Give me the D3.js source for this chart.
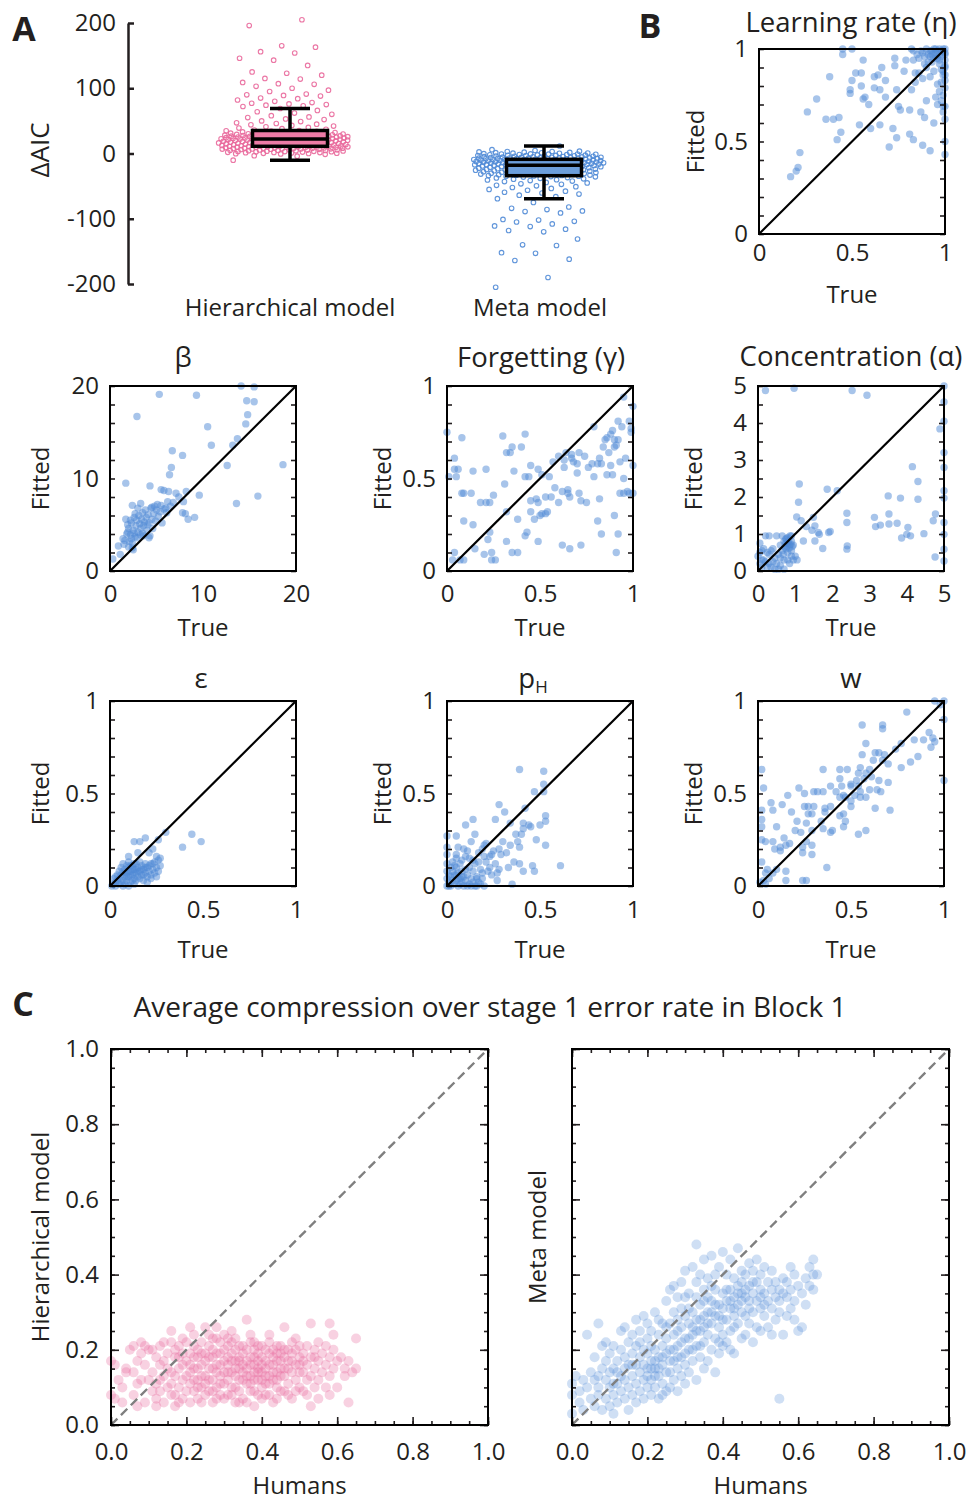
<!DOCTYPE html>
<html>
<head>
<meta charset="utf-8">
<script src="https://cdn.jsdelivr.net/npm/d3@7"></script>
<style>
  body { margin: 0; background: #fff; }
  svg text { font-family: "Open Sans", "DejaVu Sans", sans-serif; fill: #231f20; }
</style>
</head>
<body>
<svg id="fig" width="969" height="1502"></svg>
<script>
// ---------------- Panel A: ΔAIC per participant ----------------
const groupNames = ["Hierarchical model", "Meta model"];
const aicTicks = [200, 100, 0, -100, -200];

const hierAIC = [
  205, 196, 165, 163, 156, 154, 146, 143, 135, 125, 123, 120, 115, 114, 109, 107, 106, 103,
  100, 97, 95, 91, 90, 89, 88, 85, 84, 82, 80, 78, 77, 76, 75, 74, 73, 72,
  69, 66, 64, 62, 60, 58, 56, 55, 53, 52, 50, 49, 47, 46, 45, 44, 43, 42, 41, 40, 39, 38, 37, 36,
  27.4, 23.1, 33.8, 25.6, 30.2, 22.7, 28.9, 24.3, 31.5, 26.1, 22.2, 34.4, 29.7, 23.8, 27.0,
  25.1, 32.6, 24.8, 28.3, 22.9, 30.9, 26.7, 23.5, 33.1, 25.9, 29.2, 24.0, 27.8, 22.5, 31.1,
  26.4, 23.3, 28.6, 24.6, 35.0, 25.3, 30.5, 22.4, 27.2, 29.9, 23.9, 26.9, 32.2, 24.1, 28.1,
  25.5, 22.8, 31.8, 26.2, 23.6, 29.4, 24.9, 27.6, 22.3, 30.0, 25.8, 34.9, 23.0, 28.4, 26.5,
  16.3, 12.4, 20.7, 14.8, 18.2, 11.3, 21.6, 13.5, 19.4, 15.7, 17.1, 11.9, 20.1, 14.2, 21.9,
  12.8, 18.8, 16.0, 13.1, 19.9, 15.2, 21.2, 11.6, 17.6, 14.5, 20.4, 12.1, 18.5, 16.6, 13.8,
  21.4, 11.1, 19.1, 15.0, 17.9, 12.6, 20.9, 14.0, 18.0, 16.9, 13.3, 21.7, 11.4, 19.6, 15.5,
  17.3, 12.9, 20.2, 14.7, 18.6, 16.2, 13.6, 21.1, 11.8, 19.2, 15.9, 17.7, 12.3, 20.6, 14.4,
  8.4, 3.1, 10.2, 5.7, 0.4, 9.1, 6.6, 1.8, 7.9, 4.3, 10.8, 2.5, -1.2, 8.9, 5.0,
  9.7, 0.0, 6.1, 3.8, 7.2, 10.5, -3.4, 4.9, 8.1, 1.2, 9.4, 6.9, 2.9, -0.6, 7.6,
  10.0, 5.4, 0.8, 8.6, 3.5, 9.9, -10.2, 6.4, 2.2, 7.0, 10.6, 4.6, -4.1, 8.2, 1.6,
  9.2, 5.9, 0.2, 7.4, 3.3, 10.3, 6.8, 2.7, 9.6, -0.3, 8.0, 4.1, 10.9, 1.4, 5.2
];

const metaAIC = [
  -75, -82, -84, -86, -88, -89, -91, -101, -102, -104, -105, -108, -111, -112, -116, -118,
  -120, -131, -140, -141, -152, -153, -162, -164, -190, -205,
  -69.3, -66.1, -63.8, -62.2, -60.5, -59.4, -57.7, -56.3, -55.0, -53.6, -52.1, -50.8,
  -49.5, -48.7, -47.2, -46.4, -45.1, -44.3, -43.0, -42.2, -41.5, -40.6, -40.1, -39.3,
  -38.8, -38.0, -37.4, -36.9, -36.2, -35.7, -35.3, -35.0, -34.7, -34.4,
  -26.4, -31.2, -19.5, -28.7, -22.1, -33.6, -24.9, -20.3, -29.8, -18.6, -32.4, -25.3,
  -21.7, -30.5, -23.6, -27.9, -19.1, -33.1, -26.0, -22.8, -29.2, -18.9, -31.8, -24.2,
  -20.8, -27.1, -33.9, -23.0, -28.3, -21.3, -25.7, -30.1, -19.8, -32.9, -26.8, -22.5,
  -29.5, -18.4, -24.6, -31.5, -20.0, -27.5, -23.3, -33.3, -25.0, -21.0, -28.0, -30.8,
  -19.3, -26.2, -32.1, -22.3, -29.0, -24.4, -20.6, -27.3, -31.0, -23.8, -18.3, -25.5,
  -13.2, -17.4, -10.1, -15.6, -11.8, -16.9, -9.5, -14.3, -12.5, -17.8, -10.7, -15.0,
  -13.8, -9.2, -16.2, -11.3, -14.8, -12.0, -17.1, -10.4, -15.3, -9.8, -13.5, -16.6,
  -11.0, -14.1, -12.8, -17.6, -10.9, -15.9, -9.0, -13.0, -16.4, -11.5, -14.6, -12.2,
  -17.2, -10.2, -15.4, -13.7, -9.6, -16.0, -11.9, -14.4, -12.7, -17.9, -10.6, -15.2,
  -13.4, -9.3, -16.8, -11.2, -14.9, -12.3, -17.0, -10.0, -15.7, -13.1, -9.9, -14.0,
  -4.2, -7.6, 1.3, -2.5, -8.1, 3.1, -5.3, -0.6, -6.8, 2.4, -3.4, -8.7, 0.2, -5.9, -1.8,
  -7.2, 4.6, -3.0, -6.1, -0.9, -8.4, 2.9, -4.7, -1.2, -7.9, 0.8, -5.6, -2.2, 11.5, -6.5,
  -3.8, -8.0, 1.7, -4.4, -0.3, -7.4, -2.8, 3.6, -5.0, -6.3, -1.5, -8.5, 0.5, -3.6, -7.0,
  -4.9, 2.1, -2.0, -5.8, -7.7, -0.8, -6.9, -3.2, -8.2, 1.0, -4.0, -6.0, 5.8, -1.0, -7.1
];

// ---------------- Panel B: parameter recovery [true, fitted] ----------------
const etaFit = [
  [0.17,0.31],[0.20,0.34],[0.21,0.36],[0.22,0.44],[0.26,0.66],[0.31,0.73],[0.36,0.62],[0.38,0.85],
  [0.40,0.62],[0.42,0.51],[0.43,0.63],[0.44,0.55],[0.45,0.97],[0.45,1.00],[0.50,1.00],[0.49,0.76],
  [0.49,0.78],[0.50,0.83],[0.52,0.87],[0.54,0.59],[0.55,0.80],[0.55,0.87],[0.56,0.94],[0.56,0.73],
  [0.57,0.74],[0.59,0.70],[0.60,0.57],[0.62,0.85],[0.62,0.79],[0.65,0.59],[0.64,0.86],[0.65,0.78],
  [0.66,0.90],[0.68,0.83],[0.68,0.74],[0.70,0.47],[0.72,0.57],[0.73,0.95],[0.73,0.91],[0.74,0.78],
  [0.74,0.52],[0.75,0.69],[0.76,0.67],[0.78,0.88],[0.79,0.94],[0.81,0.67],[0.81,0.54],[0.82,1.00],
  [0.83,0.94],[0.82,0.78],[0.83,0.51],[0.84,0.87],[0.86,0.87],[0.87,0.66],[0.88,0.48],[0.89,0.63],
  [0.90,0.72],[0.92,0.45],[0.92,0.85],[0.92,0.96],[0.94,0.60],[0.95,0.74],[0.96,0.70],[0.97,0.77],
  [0.98,0.89],[0.98,0.82],[0.99,0.69],[1.00,0.62],[1.00,0.50],[1.00,0.43],[1.00,0.83],[1.00,0.91],
  [0.88,0.84],[0.84,0.82],[0.90,0.90],[0.93,0.93],[0.95,0.98],[0.97,1.00],[0.99,0.99],[1.00,0.97],
  [0.98,0.96],[0.96,0.95],[0.94,1.00],[0.92,0.99],[0.90,1.00],[0.88,0.98],[0.86,0.95],[0.97,0.92],
  [1.00,0.94],[0.99,0.88],[1.00,0.86],[0.99,0.75],[1.00,0.79],[0.98,0.72],[0.96,0.81],[0.94,0.88],
  [0.91,0.93],[0.89,0.96],[0.87,0.99],[0.85,0.97],[0.83,0.99],[1.00,1.00],[0.99,1.00],[0.98,0.99],
  [0.97,0.97],[0.95,0.96],[0.93,0.97],[0.95,1.00],[0.96,0.99],[1.00,0.90],[0.99,0.86],[1.00,0.69],
  [0.99,0.66],[0.91,0.97],[0.93,0.99],[0.89,0.92],[0.97,0.94],[1.00,0.98],[0.94,0.95]
];

const betaFit = [
  [5.3,19.1],[9.3,19.0],[2.9,16.7],[14.1,20.0],[15.5,19.9],[14.7,18.4],[15.5,18.3],[14.8,16.9],
  [14.6,15.9],[10.5,15.6],[10.9,13.6],[13.7,14.3],[13.2,13.6],[6.7,13.0],[7.8,12.5],[6.6,11.2],
  [6.4,10.4],[12.6,11.4],[18.6,11.5],[1.7,9.5],[4.3,9.2],[5.5,8.8],[5.8,8.7],[6.3,8.6],[9.6,8.2],
  [15.9,8.1],[13.6,7.3],[7.1,8.4],[8.2,8.6],[7.4,8.0],[7.9,7.5],[6.8,7.4],[7.8,6.3],[8.1,6.2],
  [8.4,5.6],[9.1,5.8],[2.4,7.1],[3.3,7.3],[4.5,6.9],[5.1,7.2],[6.0,6.8],[4.2,3.6],[0.3,1.3],
  [1.1,1.8],[0.9,2.7],[1.4,3.5],[1.9,4.2],[2.4,2.5],[1.7,5.6],
  [1.8,4.0],[2.0,4.6],[2.2,3.9],[2.3,5.2],[2.5,4.4],[2.6,5.8],[2.7,3.7],[2.8,4.9],[2.9,5.5],
  [3.0,4.2],[3.1,6.0],[3.2,5.1],[3.3,4.6],[3.4,5.6],[3.5,6.3],[3.6,4.9],[3.7,5.3],[3.8,6.6],
  [3.9,5.8],[4.0,4.4],[4.1,6.1],[4.2,5.2],[4.4,6.8],[4.5,5.6],[4.7,6.2],[4.9,5.4],[5.0,6.6],
  [5.2,5.9],[5.4,6.4],[5.6,5.2],[5.8,6.7],[6.1,6.3],[6.5,7.0],[2.1,3.2],[2.4,3.0],[2.9,3.6],
  [3.3,3.9],[2.6,4.1],[2.2,5.5],[1.6,3.3],[1.5,2.9],[2.0,2.6],[3.6,3.8],[4.3,3.8],[4.6,4.6],
  [3.0,6.8],[2.7,6.2],[4.8,7.0],[5.5,7.1],[6.2,7.5],[1.9,5.0],[2.3,3.5],[3.5,4.1],[4.0,5.0],[2.5,2.3]
];

const gammaFit = [
  [0.00,0.75],[0.04,0.61],[0.04,0.55],[0.01,0.51],[0.06,0.55],[0.08,0.72],[0.05,0.51],[0.08,0.42],
  [0.09,0.42],[0.09,0.27],[0.13,0.42],[0.14,0.54],[0.14,0.25],[0.04,0.10],[0.03,0.06],[0.07,0.06],
  [0.09,0.06],[0.15,0.12],[0.18,0.37],[0.21,0.37],[0.21,0.55],[0.23,0.37],[0.25,0.41],[0.23,0.21],
  [0.20,0.09],[0.24,0.10],[0.24,0.06],[0.26,0.06],[0.22,0.17],[0.30,0.73],[0.32,0.64],[0.34,0.64],
  [0.35,0.67],[0.31,0.47],[0.32,0.32],[0.32,0.16],[0.35,0.10],[0.38,0.10],[0.36,0.54],[0.38,0.28],
  [0.40,0.67],[0.42,0.74],[0.42,0.51],[0.42,0.19],[0.43,0.21],[0.44,0.51],[0.45,0.38],[0.45,0.57],
  [0.45,0.32],[0.47,0.28],[0.48,0.39],[0.49,0.16],[0.49,0.55],[0.49,0.37],[0.50,0.30],[0.51,0.31],
  [0.51,0.52],[0.53,0.40],[0.53,0.31],[0.54,0.32],[0.55,0.51],[0.56,0.40],[0.57,0.59],[0.58,0.45],
  [0.60,0.62],[0.60,0.37],[0.62,0.43],[0.62,0.14],[0.63,0.60],[0.63,0.56],[0.64,0.64],[0.65,0.44],
  [0.65,0.42],[0.66,0.40],[0.66,0.12],[0.67,0.63],[0.67,0.61],[0.68,0.59],[0.70,0.58],[0.70,0.53],
  [0.71,0.64],[0.71,0.42],[0.72,0.14],[0.72,0.38],[0.74,0.62],[0.75,0.37],[0.76,0.56],[0.78,0.58],
  [0.79,0.78],[0.79,0.51],[0.81,0.58],[0.81,0.27],[0.82,0.39],[0.82,0.61],[0.83,0.20],[0.83,0.58],
  [0.84,0.67],[0.85,0.71],[0.86,0.72],[0.86,0.52],[0.87,0.64],[0.88,0.57],[0.89,0.76],[0.89,0.52],
  [0.90,0.67],[0.90,0.30],[0.90,0.71],[0.91,0.10],[0.92,0.71],[0.92,0.81],[0.92,0.20],[0.93,0.42],
  [0.93,0.59],[0.94,0.78],[0.95,0.50],[0.95,0.42],[0.95,0.94],[0.96,0.61],[0.98,0.81],[0.98,0.42],
  [0.99,0.75],[0.99,0.77],[1.00,0.89],[1.00,0.57],[1.00,0.42],[0.97,0.43],[0.88,0.74],[0.91,0.68]
];

const alphaFit = [
  [0.20,4.88],[0.97,4.94],[2.53,4.88],[2.93,4.75],[5.00,5.00],[5.00,4.57],[5.00,4.05],[4.89,3.84],
  [5.00,3.20],[5.00,2.80],[4.15,2.82],[4.30,2.42],[4.30,1.94],[3.83,1.97],[3.50,2.03],[3.52,1.54],
  [3.52,1.27],[3.74,1.29],[3.13,1.45],[3.16,1.20],[3.29,1.24],[2.39,1.56],[2.39,1.31],[2.40,0.68],
  [2.39,0.59],[1.86,2.21],[2.13,2.17],[1.90,1.04],[1.94,1.07],[1.74,0.61],[1.53,1.22],[1.49,1.45],
  [1.62,1.04],[1.53,0.81],[1.65,0.99],[1.11,2.35],[1.09,1.86],[1.04,1.46],[1.16,1.36],[1.22,0.81],
  [4.00,0.99],[3.86,0.89],[4.10,0.95],[4.46,1.01],[4.77,1.54],[4.71,1.36],[4.76,0.38],[5.00,2.17],
  [5.00,1.97],[5.00,1.31],[5.00,0.99],[5.00,0.59],[5.00,0.27],[4.03,1.18],[1.30,1.20],[1.45,1.10],
  [0.05,0.75],[0.05,0.50],[0.05,0.20],[0.10,0.10],[0.15,0.30],[0.20,0.95],[0.25,0.50],[0.30,0.20],
  [0.35,0.10],[0.40,0.60],[0.45,0.35],[0.50,0.95],[0.55,0.45],[0.60,0.70],[0.60,0.15],[0.65,0.95],
  [0.70,0.80],[0.70,0.30],[0.75,0.60],[0.75,0.85],[0.80,0.75],[0.80,0.50],[0.80,0.90],[0.85,0.70],
  [0.85,0.20],[0.90,0.80],[0.90,0.55],[0.90,0.40],[0.95,0.30],[0.95,0.70],[1.00,0.40],[1.05,0.30],
  [0.00,0.40],[0.10,0.55],[0.20,0.25],[0.30,0.45],[0.45,0.05],[0.55,0.05],[0.70,0.05],[0.75,0.75],
  [0.82,0.82],[0.78,0.68],[0.88,0.72],[0.72,0.65],[0.86,0.95],[0.30,0.95],[0.50,0.20],[0.65,0.55],
  [0.15,0.60],[0.40,0.25],[0.25,0.10],[0.10,0.30],[0.35,0.55],[0.60,0.35],[0.90,0.95],[0.68,0.45],
  [0.80,0.30],[0.84,0.62],[0.76,0.88],[0.92,0.66]
];

const epsFit = [
  [0.39,0.21],[0.44,0.28],[0.49,0.24],[0.30,0.29],[0.26,0.25],[0.19,0.26],[0.13,0.24],[0.16,0.24],
  [0.10,0.16],[0.15,0.18],[0.21,0.18],[0.25,0.16],[0.27,0.15],[0.23,0.20],
  [0.01,0.00],[0.02,0.01],[0.03,0.02],[0.03,0.00],[0.04,0.03],[0.05,0.01],[0.05,0.04],[0.06,0.02],
  [0.06,0.06],[0.07,0.03],[0.07,0.08],[0.08,0.05],[0.08,0.01],[0.09,0.07],[0.09,0.03],[0.10,0.10],
  [0.10,0.05],[0.11,0.08],[0.11,0.02],[0.12,0.06],[0.12,0.11],[0.13,0.09],[0.13,0.04],[0.14,0.07],
  [0.14,0.12],[0.15,0.10],[0.15,0.05],[0.16,0.08],[0.16,0.13],[0.17,0.06],[0.17,0.11],[0.18,0.09],
  [0.18,0.03],[0.19,0.12],[0.19,0.07],[0.20,0.10],[0.20,0.05],[0.21,0.08],[0.22,0.12],[0.22,0.06],
  [0.23,0.09],[0.24,0.13],[0.24,0.07],[0.25,0.10],[0.26,0.14],[0.26,0.08],[0.27,0.11],[0.04,0.06],
  [0.05,0.08],[0.06,0.10],[0.07,0.12],[0.08,0.09],[0.09,0.11],[0.10,0.13],[0.11,0.06],[0.12,0.03],
  [0.13,0.12],[0.14,0.09],[0.15,0.08],[0.16,0.04],[0.02,0.04],[0.03,0.05],[0.10,0.08],[0.12,0.09],
  [0.08,0.07],[0.11,0.11],[0.13,0.07],[0.09,0.05],[0.17,0.09],[0.19,0.10],[0.21,0.11],[0.23,0.12],
  [0.14,0.03],[0.18,0.06],[0.20,0.02],[0.22,0.04],[0.25,0.05],[0.07,0.00],[0.10,0.00],[0.13,0.01]
];

const pHFit = [
  [0.39,0.63],[0.52,0.62],[0.52,0.55],[0.47,0.51],[0.52,0.51],[0.42,0.42],[0.28,0.44],[0.31,0.40],
  [0.26,0.36],[0.34,0.34],[0.41,0.34],[0.44,0.33],[0.45,0.32],[0.53,0.38],[0.53,0.35],[0.50,0.33],
  [0.41,0.31],[0.40,0.28],[0.37,0.28],[0.48,0.25],[0.53,0.22],[0.38,0.24],[0.39,0.21],[0.34,0.22],
  [0.32,0.18],[0.29,0.17],[0.24,0.17],[0.21,0.23],[0.10,0.33],[0.14,0.36],[0.15,0.28],[0.13,0.24],
  [0.05,0.27],[0.00,0.27],[0.00,0.21],[0.00,0.17],[0.05,0.17],[0.11,0.19],[0.17,0.18],[0.20,0.16],
  [0.61,0.11],[0.46,0.11],[0.47,0.08],[0.39,0.12],[0.36,0.13],[0.33,0.10],[0.28,0.09],[0.27,0.03],
  [0.35,0.01],[0.41,0.08],[0.23,0.10],[0.19,0.07],[0.16,0.04],
  [0.00,0.00],[0.01,0.02],[0.02,0.05],[0.02,0.00],[0.03,0.08],[0.03,0.03],[0.04,0.01],[0.04,0.06],
  [0.05,0.10],[0.05,0.03],[0.06,0.00],[0.06,0.07],[0.07,0.04],[0.07,0.12],[0.08,0.02],[0.08,0.08],
  [0.09,0.05],[0.09,0.00],[0.10,0.09],[0.10,0.03],[0.11,0.06],[0.12,0.01],[0.12,0.10],[0.13,0.04],
  [0.14,0.08],[0.15,0.00],[0.15,0.12],[0.16,0.05],[0.17,0.02],[0.18,0.09],[0.19,0.04],[0.20,0.00],
  [0.01,0.06],[0.02,0.10],[0.00,0.04],[0.00,0.08],[0.00,0.12],[0.01,0.00],[0.03,0.13],[0.05,0.06],
  [0.04,0.11],[0.06,0.04],[0.07,0.01],[0.08,0.05],[0.11,0.00],[0.13,0.00],[0.14,0.02],[0.16,0.00],
  [0.18,0.01],[0.05,0.15],[0.08,0.14],[0.10,0.16],[0.12,0.15],[0.09,0.20],[0.06,0.21],[0.14,0.14],
  [0.17,0.13],[0.22,0.08],[0.24,0.06],[0.26,0.12],[0.21,0.13],[0.23,0.16],[0.19,0.20],[0.20,0.22],
  [0.25,0.19],[0.28,0.20],[0.30,0.24],[0.27,0.07]
];

const wFit = [
  [0.95,1.00],[0.98,0.98],[1.00,1.00],[1.00,0.90],[0.80,0.94],[0.56,0.87],[0.67,0.87],[0.67,0.85],
  [0.89,0.79],[0.94,0.80],[0.95,0.78],[0.93,0.75],[0.84,0.79],[0.77,0.77],[0.58,0.77],[0.63,0.72],
  [0.65,0.72],[0.56,0.71],[0.68,0.71],[0.62,0.68],[0.67,0.68],[0.82,0.67],[0.77,0.64],[0.55,0.64],
  [0.60,0.63],[0.35,0.63],[0.44,0.63],[0.48,0.63],[0.02,0.63],[0.54,0.61],[0.58,0.61],[0.57,0.58],
  [0.44,0.58],[0.65,0.57],[0.53,0.57],[0.70,0.56],[0.50,0.55],[0.50,0.54],[0.39,0.54],[0.45,0.54],
  [0.54,0.54],[1.00,0.57],[0.03,0.53],[0.22,0.53],[0.25,0.50],[0.30,0.51],[0.32,0.51],[0.35,0.51],
  [0.42,0.51],[0.55,0.51],[0.60,0.52],[0.64,0.52],[0.66,0.51],[0.16,0.49],[0.44,0.48],[0.46,0.49],
  [0.47,0.48],[0.55,0.48],[0.58,0.48],[0.50,0.43],[0.63,0.42],[0.71,0.41],[0.07,0.45],[0.13,0.44],
  [0.18,0.40],[0.25,0.43],[0.27,0.43],[0.30,0.43],[0.27,0.39],[0.29,0.39],[0.36,0.42],[0.39,0.43],
  [0.36,0.40],[0.44,0.38],[0.46,0.39],[0.02,0.41],[0.08,0.41],[0.02,0.36],[0.02,0.32],[0.10,0.32],
  [0.21,0.35],[0.26,0.34],[0.34,0.35],[0.35,0.31],[0.39,0.29],[0.40,0.30],[0.47,0.35],[0.46,0.32],
  [0.54,0.28],[0.58,0.30],[0.20,0.30],[0.23,0.29],[0.29,0.30],[0.14,0.26],[0.02,0.25],[0.04,0.24],
  [0.08,0.24],[0.26,0.24],[0.12,0.21],[0.15,0.22],[0.17,0.23],[0.09,0.20],[0.12,0.19],[0.24,0.21],
  [0.29,0.22],[0.24,0.18],[0.29,0.17],[0.37,0.10],[0.02,0.13],[0.05,0.09],[0.04,0.07],[0.08,0.07],
  [0.10,0.09],[0.15,0.08],[0.03,0.03],[0.04,0.01],[0.15,0.03],[0.24,0.03],[0.26,0.03],[0.01,0.02],
  [0.06,0.04],[0.50,0.46],[0.92,0.83],[0.86,0.70],[0.74,0.74],[0.70,0.66],[0.61,0.59],[0.52,0.49]
];

// ---------------- Panel C: stage 1 error rate compression ----------------
const axisCTicks = [0, 0.2, 0.4, 0.6, 0.8, 1.0];

const hierCompression = [
  [0.00,0.17],[0.00,0.08],[0.01,0.07],[0.01,0.16],[0.02,0.12],[0.03,0.06],[0.04,0.15],[0.04,0.14],[0.03,0.10],[0.05,0.20],
  [0.06,0.21],[0.07,0.11],[0.07,0.17],[0.08,0.22],[0.08,0.12],[0.09,0.16],[0.09,0.06],[0.06,0.08],[0.08,0.19],[0.09,0.21],
  [0.07,0.05],[0.10,0.20],[0.06,0.14],[0.10,0.12],
  [0.11,0.09],[0.11,0.14],[0.12,0.07],[0.12,0.18],[0.12,0.11],[0.13,0.21],[0.13,0.09],[0.13,0.16],[0.14,0.22],[0.14,0.13],
  [0.14,0.06],[0.15,0.19],[0.15,0.10],[0.15,0.15],[0.11,0.20],[0.12,0.05],[0.14,0.17],[0.13,0.12],
  [0.16,0.22],[0.16,0.08],[0.16,0.25],[0.17,0.13],[0.17,0.18],[0.17,0.05],[0.18,0.21],[0.18,0.10],[0.18,0.15],[0.19,0.07],
  [0.19,0.19],[0.19,0.12],[0.20,0.22],[0.20,0.17],[0.20,0.09],[0.16,0.14],[0.17,0.20],[0.18,0.06],[0.19,0.16],[0.20,0.13],
  [0.16,0.11],[0.17,0.08],[0.19,0.23],[0.18,0.18],
  [0.21,0.26],[0.21,0.19],[0.21,0.11],[0.21,0.06],[0.22,0.21],[0.22,0.15],[0.22,0.09],[0.22,0.24],[0.23,0.18],[0.23,0.12],
  [0.23,0.07],[0.23,0.20],[0.24,0.16],[0.24,0.10],[0.24,0.22],[0.24,0.06],[0.25,0.19],[0.25,0.13],[0.25,0.26],[0.25,0.08],
  [0.21,0.16],[0.22,0.12],[0.23,0.15],[0.24,0.13],[0.25,0.17],[0.21,0.14],[0.22,0.18],[0.23,0.10],[0.24,0.19],[0.25,0.11],
  [0.26,0.21],[0.26,0.15],[0.26,0.09],[0.26,0.24],[0.27,0.18],[0.27,0.12],[0.27,0.06],[0.27,0.20],[0.28,0.16],[0.28,0.10],
  [0.28,0.23],[0.28,0.14],[0.29,0.19],[0.29,0.08],[0.29,0.13],[0.29,0.22],[0.30,0.17],[0.30,0.11],[0.30,0.07],[0.30,0.20],
  [0.26,0.18],[0.27,0.15],[0.28,0.19],[0.29,0.16],[0.30,0.14],[0.26,0.12],[0.27,0.09],[0.28,0.07],[0.29,0.11],[0.30,0.24],
  [0.27,0.23],[0.28,0.26],
  [0.31,0.21],[0.31,0.16],[0.31,0.12],[0.31,0.08],[0.32,0.19],[0.32,0.14],[0.32,0.10],[0.32,0.22],[0.33,0.17],[0.33,0.13],
  [0.33,0.06],[0.33,0.20],[0.34,0.15],[0.34,0.09],[0.34,0.21],[0.34,0.18],[0.35,0.19],[0.35,0.12],[0.35,0.16],[0.35,0.07],
  [0.31,0.18],[0.32,0.17],[0.33,0.15],[0.34,0.12],[0.35,0.21],[0.31,0.14],[0.32,0.08],[0.33,0.10],[0.34,0.17],[0.35,0.14],
  [0.33,0.23],[0.32,0.25],[0.34,0.06],[0.31,0.23],
  [0.36,0.28],[0.36,0.20],[0.36,0.15],[0.36,0.11],[0.36,0.06],[0.37,0.18],[0.37,0.13],[0.37,0.22],[0.37,0.09],[0.38,0.16],
  [0.38,0.20],[0.38,0.12],[0.38,0.05],[0.39,0.19],[0.39,0.14],[0.39,0.17],[0.39,0.08],[0.40,0.21],[0.40,0.16],[0.40,0.12],
  [0.40,0.07],[0.36,0.17],[0.37,0.16],[0.38,0.18],[0.39,0.15],[0.40,0.18],[0.36,0.13],[0.37,0.11],[0.38,0.14],[0.39,0.12],
  [0.40,0.14],[0.37,0.24],[0.38,0.22],[0.39,0.21],[0.38,0.09],[0.40,0.10],
  [0.41,0.20],[0.41,0.15],[0.41,0.11],[0.41,0.17],[0.42,0.19],[0.42,0.13],[0.42,0.08],[0.42,0.22],[0.43,0.16],[0.43,0.12],
  [0.43,0.18],[0.43,0.06],[0.44,0.21],[0.44,0.14],[0.44,0.10],[0.44,0.17],[0.45,0.19],[0.45,0.13],[0.45,0.15],[0.45,0.09],
  [0.41,0.13],[0.42,0.16],[0.43,0.14],[0.44,0.12],[0.45,0.17],[0.41,0.08],[0.42,0.11],[0.43,0.20],[0.44,0.07],[0.45,0.21],
  [0.42,0.24],[0.44,0.19],
  [0.46,0.26],[0.46,0.18],[0.46,0.13],[0.46,0.09],[0.47,0.20],[0.47,0.15],[0.47,0.11],[0.47,0.17],[0.48,0.19],[0.48,0.14],
  [0.48,0.07],[0.48,0.22],[0.49,0.16],[0.49,0.12],[0.49,0.20],[0.50,0.18],[0.50,0.14],[0.50,0.10],[0.50,0.21],[0.46,0.15],
  [0.47,0.08],[0.48,0.17],[0.49,0.09],[0.50,0.16],[0.46,0.20],[0.49,0.23],
  [0.51,0.19],[0.51,0.14],[0.51,0.09],[0.52,0.21],[0.52,0.16],[0.52,0.12],[0.53,0.27],[0.53,0.18],[0.53,0.13],[0.53,0.05],
  [0.54,0.20],[0.54,0.15],[0.54,0.10],[0.55,0.17],[0.55,0.22],[0.55,0.12],[0.51,0.17],[0.52,0.08],[0.54,0.18],[0.55,0.07],
  [0.56,0.19],[0.56,0.14],[0.57,0.21],[0.57,0.10],[0.57,0.16],[0.58,0.27],[0.58,0.18],[0.58,0.13],[0.58,0.08],[0.59,0.20],
  [0.59,0.15],[0.60,0.17],[0.60,0.10],[0.59,0.24],
  [0.61,0.18],[0.62,0.13],[0.62,0.15],[0.63,0.06],[0.63,0.17],[0.64,0.14],[0.65,0.23],[0.65,0.15]
];

const metaCompression = [
  [0.00,0.11],[0.00,0.08],[0.00,0.03],[0.01,0.13],[0.02,0.09],[0.02,0.06],[0.03,0.12],[0.03,0.04],[0.04,0.10],[0.04,0.24],
  [0.05,0.07],[0.05,0.14],
  [0.06,0.12],[0.06,0.05],[0.06,0.18],[0.07,0.10],[0.07,0.27],[0.07,0.08],[0.08,0.15],[0.08,0.04],[0.08,0.21],[0.09,0.12],
  [0.09,0.07],[0.09,0.17],[0.10,0.10],[0.10,0.14],[0.10,0.05],[0.10,0.19],[0.07,0.13],[0.09,0.22],
  [0.11,0.08],[0.11,0.15],[0.11,0.03],[0.11,0.21],[0.12,0.11],[0.12,0.17],[0.12,0.06],[0.13,0.13],[0.13,0.20],[0.13,0.09],
  [0.13,0.25],[0.14,0.15],[0.14,0.07],[0.14,0.18],[0.14,0.12],[0.15,0.22],[0.15,0.10],[0.15,0.16],[0.15,0.04],[0.12,0.14],
  [0.14,0.26],[0.11,0.11],
  [0.16,0.13],[0.16,0.19],[0.16,0.08],[0.16,0.24],[0.17,0.16],[0.17,0.11],[0.17,0.21],[0.17,0.06],[0.18,0.18],[0.18,0.14],
  [0.18,0.25],[0.18,0.09],[0.19,0.20],[0.19,0.12],[0.19,0.16],[0.19,0.29],[0.20,0.23],[0.20,0.15],[0.20,0.10],[0.20,0.19],
  [0.16,0.16],[0.17,0.28],[0.18,0.22],[0.19,0.07],[0.20,0.13],[0.20,0.27],
  [0.21,0.17],[0.21,0.12],[0.21,0.25],[0.21,0.08],[0.22,0.20],[0.22,0.15],[0.22,0.30],[0.22,0.10],[0.23,0.18],[0.23,0.13],
  [0.23,0.24],[0.23,0.07],[0.24,0.21],[0.24,0.16],[0.24,0.27],[0.24,0.11],[0.25,0.19],[0.25,0.14],[0.25,0.33],[0.25,0.09],
  [0.21,0.21],[0.22,0.17],[0.23,0.15],[0.24,0.18],[0.25,0.23],[0.21,0.15],[0.22,0.13],[0.23,0.28],[0.24,0.08],[0.25,0.26],
  [0.26,0.20],[0.26,0.14],[0.26,0.36],[0.26,0.10],[0.27,0.24],[0.27,0.17],[0.27,0.30],[0.27,0.12],[0.28,0.21],[0.28,0.15],
  [0.28,0.34],[0.28,0.09],[0.29,0.26],[0.29,0.18],[0.29,0.13],[0.29,0.38],[0.30,0.23],[0.30,0.16],[0.30,0.29],[0.30,0.11],
  [0.26,0.27],[0.27,0.20],[0.28,0.25],[0.29,0.22],[0.30,0.19],[0.26,0.17],[0.27,0.37],[0.28,0.18],[0.29,0.31],[0.30,0.34],
  [0.28,0.28],[0.30,0.41],
  [0.31,0.27],[0.31,0.20],[0.31,0.14],[0.31,0.35],[0.32,0.24],[0.32,0.30],[0.32,0.17],[0.32,0.42],[0.33,0.28],[0.33,0.21],
  [0.33,0.12],[0.33,0.48],[0.34,0.25],[0.34,0.32],[0.34,0.18],[0.34,0.40],[0.35,0.29],[0.35,0.22],[0.35,0.15],[0.35,0.36],
  [0.31,0.31],[0.32,0.26],[0.33,0.34],[0.34,0.28],[0.35,0.26],[0.31,0.23],[0.32,0.20],[0.33,0.38],[0.34,0.21],[0.35,0.44],
  [0.33,0.25],[0.35,0.33],
  [0.36,0.30],[0.36,0.24],[0.36,0.39],[0.36,0.17],[0.37,0.33],[0.37,0.27],[0.37,0.45],[0.37,0.20],[0.38,0.29],[0.38,0.36],
  [0.38,0.23],[0.38,0.14],[0.39,0.32],[0.39,0.26],[0.39,0.42],[0.39,0.19],[0.40,0.31],[0.40,0.35],[0.40,0.24],[0.40,0.46],
  [0.36,0.34],[0.37,0.30],[0.38,0.32],[0.39,0.29],[0.40,0.28],[0.36,0.27],[0.37,0.37],[0.38,0.40],[0.39,0.22],[0.40,0.21],
  [0.41,0.33],[0.41,0.28],[0.41,0.40],[0.41,0.22],[0.42,0.31],[0.42,0.36],[0.42,0.25],[0.42,0.44],[0.43,0.34],[0.43,0.29],
  [0.43,0.39],[0.43,0.19],[0.44,0.32],[0.44,0.37],[0.44,0.27],[0.44,0.47],[0.45,0.35],[0.45,0.30],[0.45,0.41],[0.45,0.23],
  [0.41,0.36],[0.42,0.33],[0.43,0.31],[0.44,0.35],[0.45,0.38],[0.42,0.20],[0.43,0.26],[0.45,0.33],
  [0.46,0.34],[0.46,0.29],[0.46,0.40],[0.46,0.24],[0.47,0.37],[0.47,0.31],[0.47,0.43],[0.47,0.27],[0.48,0.35],[0.48,0.30],
  [0.48,0.41],[0.48,0.22],[0.49,0.33],[0.49,0.38],[0.49,0.26],[0.49,0.44],[0.50,0.36],[0.50,0.31],[0.50,0.40],[0.50,0.25],
  [0.46,0.36],[0.47,0.33],[0.48,0.38],[0.50,0.34],
  [0.51,0.35],[0.51,0.29],[0.51,0.42],[0.52,0.33],[0.52,0.38],[0.52,0.26],[0.53,0.36],[0.53,0.31],[0.53,0.41],[0.54,0.34],
  [0.54,0.28],[0.54,0.38],[0.55,0.36],[0.55,0.30],[0.55,0.07],[0.51,0.32],[0.53,0.24],[0.55,0.33],
  [0.56,0.35],[0.56,0.24],[0.56,0.39],[0.57,0.34],[0.57,0.29],[0.57,0.38],[0.58,0.36],[0.58,0.31],[0.58,0.42],[0.59,0.28],
  [0.59,0.33],[0.60,0.37],[0.60,0.25],[0.59,0.40],
  [0.61,0.26],[0.61,0.35],[0.62,0.39],[0.62,0.32],[0.63,0.37],[0.63,0.42],[0.64,0.40],[0.64,0.44],[0.65,0.40],[0.64,0.36]
];

// ---------------- Drawing ----------------
const PINK = "#e9689b", BLUE = "#4f8ad6", INK = "#231f20";
const FONT = '"Open Sans", "DejaVu Sans", sans-serif';
const svg = d3.select("#fig");

function label(g, text, x, y, opts = {}) {
  const t = g.append("text")
    .attr("x", x).attr("y", y).attr("dy", "0.36em")
    .attr("text-anchor", opts.anchor || "middle")
    .attr("font-size", opts.size || 24)
    .attr("font-weight", opts.weight || "normal")
    .text(text);
  if (opts.rotate) t.attr("transform", `rotate(-90,${x},${y})`);
  return t;
}
function styleAxis(g) {
  g.attr("font-family", FONT).attr("font-size", 24).attr("color", INK);
  g.selectAll(".tick text").attr("fill", INK);
}

// ----- Panel A -----
(function panelA() {
  const g = svg.append("g");
  const y = d3.scaleLinear().domain([-200, 200]).range([284, 23]);
  const x = d3.scalePoint().domain(groupNames).range([290, 544]);
  const ax = g.append("g").attr("transform", "translate(128,0)")
    .call(d3.axisLeft(y).tickValues(aicTicks).tickSizeInner(-6).tickSizeOuter(0).tickPadding(12)
      .tickFormat(v => String(v)));
  styleAxis(ax);
  ax.select(".domain").attr("stroke-width", 2.5);
  ax.selectAll(".tick line").attr("stroke-width", 2.5);

  // violin-like spread: width follows the local density of values
  function spread(values, maxHalf) {
    const bw = 10;
    const dens = values.map(v => d3.sum(values, u => Math.exp(-0.5 * ((v - u) / bw) ** 2)));
    const dmax = d3.max(dens);
    const order = d3.range(values.length).sort((a, b) => values[a] - values[b]);
    const off = new Array(values.length);
    order.forEach((idx, rank) => {
      const u = ((rank * 0.6180339887) % 1) * 2 - 1;
      off[idx] = u * maxHalf * (0.6 + 0.4 * Math.sqrt(dens[idx] / dmax));
    });
    return off;
  }

  const groups = [
    { name: groupNames[0], values: hierAIC, color: PINK, fill: "#ec7ba6", labelDx: 0 },
    { name: groupNames[1], values: metaAIC, color: BLUE, fill: "#6c9edb", labelDx: -4 }
  ];
  groups.forEach(grp => {
    const cx = x(grp.name);
    const off = spread(grp.values, 66);
    g.append("g").selectAll("circle").data(grp.values).join("circle")
      .attr("cx", (d, i) => cx - 6 + off[i]).attr("cy", d => y(d)).attr("r", 2.3)
      .attr("fill", "none").attr("stroke", grp.color).attr("stroke-width", 1.1).attr("opacity", 0.9);

    const s = grp.values.slice().sort(d3.ascending);
    const q1 = d3.quantileSorted(s, 0.25), med = d3.quantileSorted(s, 0.5), q3 = d3.quantileSorted(s, 0.75);
    const iqr = q3 - q1;
    const hi = d3.max(s.filter(v => v <= q3 + 1.5 * iqr));
    const lo = d3.min(s.filter(v => v >= q1 - 1.5 * iqr));
    const bw = 75, cw = 40, sw = 3.5;
    const b = g.append("g").attr("stroke", "#000").attr("stroke-width", sw);
    b.append("line").attr("x1", cx).attr("x2", cx).attr("y1", y(q3)).attr("y2", y(hi));
    b.append("line").attr("x1", cx).attr("x2", cx).attr("y1", y(q1)).attr("y2", y(lo));
    b.append("line").attr("x1", cx - cw / 2).attr("x2", cx + cw / 2).attr("y1", y(hi)).attr("y2", y(hi));
    b.append("line").attr("x1", cx - cw / 2).attr("x2", cx + cw / 2).attr("y1", y(lo)).attr("y2", y(lo));
    b.append("rect").attr("x", cx - bw / 2).attr("width", bw)
      .attr("y", y(q3)).attr("height", y(q1) - y(q3)).attr("fill", grp.fill);
    b.append("line").attr("x1", cx - bw / 2).attr("x2", cx + bw / 2).attr("y1", y(med)).attr("y2", y(med));

    label(g, grp.name, cx + grp.labelDx, 307);
  });
  label(g, "ΔAIC", 40, 150, { rotate: true, size: 26 });
  label(g, "A", 24, 29, { size: 34, weight: "bold" });
})();

// ----- Panel B -----
const fmtB = v => String(+v.toFixed(2));
const panelsB = [
  { title: "Learning rate (η)", data: etaFit, domain: [0, 1], labels: [0, 0.5, 1], x: 759, y: 49, tx: 851, ty: 22, lx: 253, ty2: 294, fx: 695 },
  { title: "β", data: betaFit, domain: [0, 20], labels: [0, 10, 20], x: 110, y: 386, tx: 183, ty: 357, lx: 594, ty2: 627, fx: 40 },
  { title: "Forgetting (γ)", data: gammaFit, domain: [0, 1], labels: [0, 0.5, 1], x: 447, y: 386, tx: 541, ty: 357, lx: 594, ty2: 627, fx: 382 },
  { title: "Concentration (α)", data: alphaFit, domain: [0, 5], labels: [0, 1, 2, 3, 4, 5], x: 758, y: 386, tx: 851, ty: 356, lx: 594, ty2: 627, fx: 693 },
  { title: "ε", data: epsFit, domain: [0, 1], labels: [0, 0.5, 1], x: 110, y: 701, tx: 201, ty: 678, lx: 910, ty2: 949, fx: 40 },
  { title: "pH", data: pHFit, domain: [0, 1], labels: [0, 0.5, 1], x: 447, y: 701, tx: 540, ty: 678, lx: 910, ty2: 949, fx: 382 },
  { title: "w", data: wFit, domain: [0, 1], labels: [0, 0.5, 1], x: 758, y: 701, tx: 851, ty: 678, lx: 910, ty2: 949, fx: 693 }
];
const BW = 186, BH = 185;

panelsB.forEach(p => {
  const g = svg.append("g");
  const x = d3.scaleLinear().domain(p.domain).range([p.x, p.x + BW]);
  const y = d3.scaleLinear().domain(p.domain).range([p.y + BH, p.y]);
  const minor = y.ticks(10);
  const isLabel = v => p.labels.some(l => Math.abs(l - v) < 1e-9);

  g.append("g").selectAll("circle").data(p.data).join("circle")
    .attr("cx", d => x(d[0])).attr("cy", d => y(d[1])).attr("r", 3.7)
    .attr("fill", BLUE).attr("fill-opacity", 0.5);

  g.append("line").attr("x1", x(p.domain[0])).attr("y1", y(p.domain[0]))
    .attr("x2", x(p.domain[1])).attr("y2", y(p.domain[1]))
    .attr("stroke", "#000").attr("stroke-width", 2.2);

  const left = g.append("g").attr("transform", `translate(${p.x},0)`)
    .call(d3.axisLeft(y).tickValues(minor).tickSizeInner(-5).tickSizeOuter(0).tickPadding(11)
      .tickFormat(v => isLabel(v) ? fmtB(v) : ""));
  const right = g.append("g").attr("transform", `translate(${p.x + BW},0)`)
    .call(d3.axisRight(y).tickValues(minor).tickSizeInner(-5).tickSizeOuter(0).tickFormat(""));
  const bottom = g.append("g").attr("transform", `translate(0,${p.y + BH})`)
    .call(d3.axisBottom(x).tickValues(p.labels).tickSize(0).tickPadding(p.lx - (p.y + BH) - 9)
      .tickFormat(fmtB));
  [left, right, bottom].forEach(a => {
    styleAxis(a);
    a.select(".domain").remove();
    a.selectAll(".tick line").attr("stroke-width", 1.6);
  });

  g.append("rect").attr("x", p.x).attr("y", p.y).attr("width", BW).attr("height", BH)
    .attr("fill", "none").attr("stroke", "#000").attr("stroke-width", 2);

  if (p.title === "pH") {
    const t = label(g, "p", p.tx - 7, p.ty, { size: 27.5 });
    t.append("tspan").attr("font-size", 17).attr("dy", "0.3em").text("H");
  } else {
    label(g, p.title, p.tx, p.ty, { size: 27.5 });
  }
  label(g, "True", p.x + BW / 2, p.ty2);
  label(g, "Fitted", p.fx, p.y + BH / 2, { rotate: true });
});
label(svg, "B", 650, 26, { size: 34, weight: "bold" });

// ----- Panel C -----
const fmtC = d3.format(".1f");
const panelsC = [
  { data: hierCompression, color: PINK, x: 111, ylab: "Hierarchical model", ylx: 40, showY: true },
  { data: metaCompression, color: BLUE, x: 572, ylab: "Meta model", ylx: 537, showY: false }
];
const CW = 377, CH = 376, CY = 1049;

panelsC.forEach(p => {
  const g = svg.append("g");
  const x = d3.scaleLinear().domain([0, 1]).range([p.x, p.x + CW]);
  const y = d3.scaleLinear().domain([0, 1]).range([CY + CH, CY]);

  g.append("g").selectAll("circle").data(p.data).join("circle")
    .attr("cx", d => x(d[0])).attr("cy", d => y(d[1])).attr("r", 5)
    .attr("fill", p.color).attr("fill-opacity", p.color === PINK ? 0.3 : 0.27);

  g.append("line").attr("x1", x(0)).attr("y1", y(0)).attr("x2", x(1)).attr("y2", y(1))
    .attr("stroke", "#7f7f7f").attr("stroke-width", 2.4).attr("stroke-dasharray", "9,5");

  const minor = x.ticks(20);
  const axes = [];
  [["left", d3.axisLeft, y, `translate(${p.x},0)`],
   ["right", d3.axisRight, y, `translate(${p.x + CW},0)`],
   ["top", d3.axisTop, x, `translate(0,${CY})`],
   ["bottom", d3.axisBottom, x, `translate(0,${CY + CH})`]].forEach(([side, axisFn, sc, tr]) => {
    axes.push(g.append("g").attr("transform", tr)
      .call(axisFn(sc).tickValues(minor).tickSizeInner(-4).tickSizeOuter(0).tickFormat("")));
    const withLabels = side === "bottom" || (side === "left" && p.showY);
    axes.push(g.append("g").attr("transform", tr)
      .call(axisFn(sc).tickValues(axisCTicks).tickSizeInner(-8).tickSizeOuter(0)
        .tickPadding(side === "bottom" ? 18 : 12)
        .tickFormat(withLabels ? fmtC : "")));
  });
  axes.forEach(a => {
    styleAxis(a);
    a.select(".domain").remove();
    a.selectAll(".tick line").attr("stroke-width", 1.6);
  });

  g.append("rect").attr("x", p.x).attr("y", CY).attr("width", CW).attr("height", CH)
    .attr("fill", "none").attr("stroke", "#000").attr("stroke-width", 2);

  label(g, "Humans", p.x + CW / 2, 1485);
  label(g, p.ylab, p.ylx, 1237, { rotate: true });
});
label(svg, "Average compression over stage 1 error rate in Block 1", 490, 1007, { size: 28 });
label(svg, "C", 23, 1004, { size: 34, weight: "bold" });
</script>
</body>
</html>
